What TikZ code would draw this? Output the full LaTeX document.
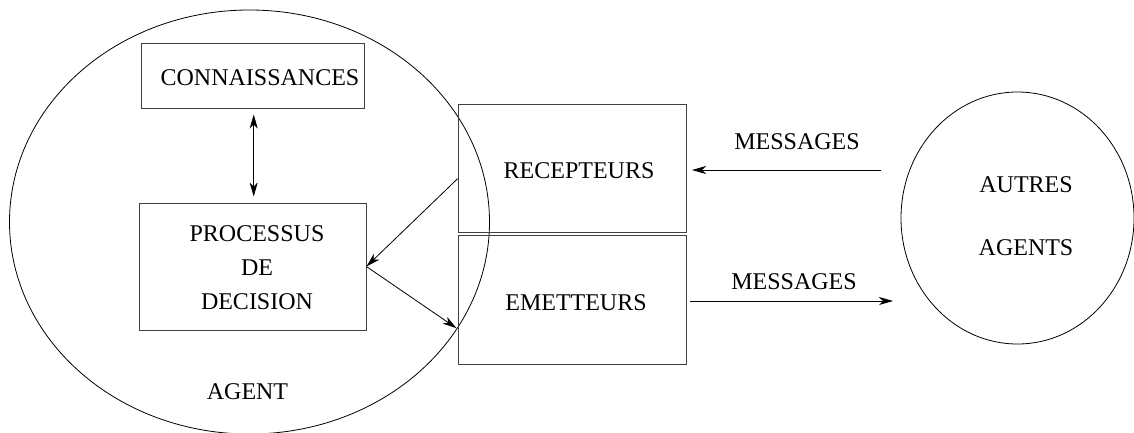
\documentclass[tikz,border=0pt]{standalone}
\usepackage{fontspec}
\setmainfont{Liberation Serif}
\usetikzlibrary{arrows.meta,shapes.geometric}
\begin{document}
\begin{tikzpicture}[x=1pt,y=-1pt,
  box/.style={draw=black!75,line width=0.9pt,inner sep=0pt},
  lbl/.style={font=\fontsize{24}{34}\selectfont,inner sep=0pt,align=center},
  ring/.style={draw,ellipse,line width=0.8pt,inner sep=0pt},
  arr/.style={line width=0.8pt,-{Stealth[length=14pt,width=8pt,inset=4pt]}},
  darr/.style={line width=0.8pt,{Stealth[length=14pt,width=8pt,inset=4pt]}-{Stealth[length=14pt,width=8pt,inset=4pt]}}]
\useasboundingbox (0,0) rectangle (1134,432);
\node[ring,minimum width=480pt,minimum height=424pt] (agent) at (249.5,222) {};
\node[ring,minimum width=233pt,minimum height=252pt] (autres) at (1017.5,218) {};
\node[box,minimum width=223pt,minimum height=65pt] (conn) at (252.5,75.5) {};
\node[box,minimum width=227pt,minimum height=127pt] (proc) at (252.5,266.5) {};
\node[box,minimum width=228pt,minimum height=128.5pt] (rec) at (572,168.25) {};
\node[box,minimum width=228pt,minimum height=128.5pt] (emet) at (572,299.75) {};
\node[lbl] (tconn) at (260,78) {CONNAISSANCES};
\node[lbl] (tproc) at (257,268) {PROCESSUS\\DE\\DECISION};
\node[lbl] (tagent) at (247.5,392) {AGENT};
\node[lbl] (trec) at (579,171) {RECEPTEURS};
\node[lbl] (temet) at (576,303) {EMETTEURS};
\node[lbl] (tm1) at (797,142) {MESSAGES};
\node[lbl] (tm2) at (794,282) {MESSAGES};
\node[lbl] (taut) at (1026,216.5) {AUTRES\\[29pt]AGENTS};
\coordinate (m1s) at (881,170);
\coordinate (m1e) at (692,170);
\coordinate (m2s) at (690,301);
\coordinate (m2e) at (893,301);
\draw[darr] ([shift={(1.2,6)}]conn.south) -- ([shift={(1.2,-6)}]proc.north);
\draw[arr] ([yshift=-10.5]rec.west) -- (proc.east);
\draw[arr] (proc.east) -- ([shift={(-1,28.5)}]emet.west);
\draw[arr] (m1s) -- (m1e);
\draw[arr] (m2s) -- (m2e);
\end{tikzpicture}
\end{document}
